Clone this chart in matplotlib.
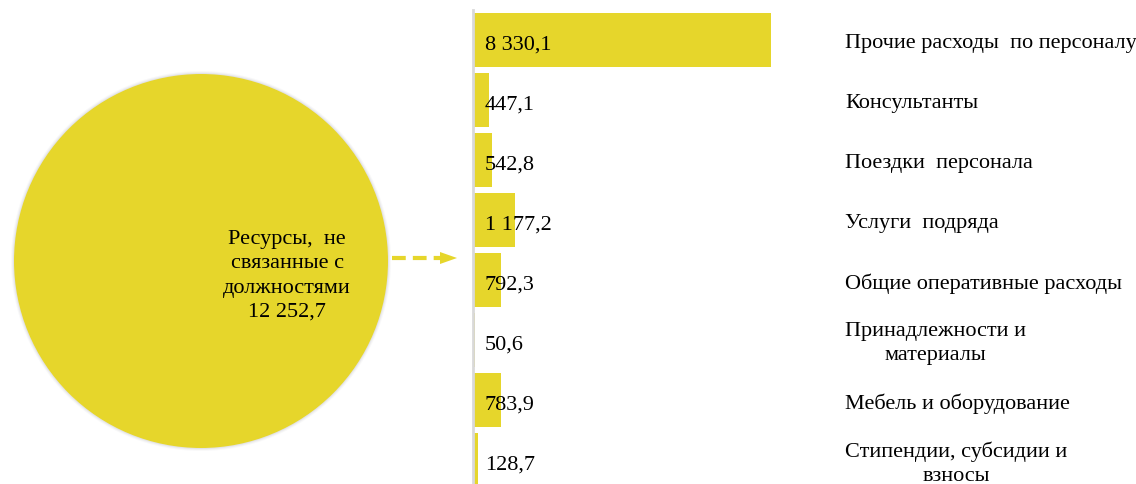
import matplotlib.pyplot as plt
from matplotlib.patches import Circle, Polygon
from matplotlib.transforms import blended_transform_factory

plt.rcParams['font.family'] = ['Liberation Serif', 'DejaVu Serif']

# данные
categories = ["Прочие расходы  по персоналу", "Консультанты", "Поездки  персонала",
              "Услуги  подряда", "Общие оперативные расходы", "Принадлежности и\nматериалы",
              "Мебель и оборудование", "Стипендии, субсидии и\nвзносы"]
values = [8330.1, 447.1, 542.8, 1177.2, 792.3, 50.6, 783.9, 128.7]
value_labels = ["8 330,1", "447,1", "542,8", "1 177,2", "792,3", "50,6", "783,9", "128,7"]
total_label = "Ресурсы,  не\nсвязанные с\nдолжностями\n12 252,7"

yellow = "#E6D62B"
W, H = 1136, 485
fs = 16

fig = plt.figure(figsize=(W / 100, H / 100), dpi=100)

# фон в пикселях: круг и стрелка
bg = fig.add_axes([0, 0, 1, 1])
bg.set_xlim(0, W)
bg.set_ylim(H, 0)
bg.set_aspect("equal")
bg.axis("off")
# лёгкая тень вокруг круга
for dr, a in [(3, 0.05), (2, 0.08), (1, 0.12)]:
    bg.add_patch(Circle((201, 262), 187 + dr, color="#8a8a9a", alpha=a, lw=0))
bg.add_patch(Circle((201, 262), 187, color=yellow, lw=0))
bg.text(287, 276, total_label, ha="center", va="center", fontsize=fs, linespacing=1.37)

# пунктирная стрелка
bg.plot([392, 441], [259, 259], color=yellow, lw=3, linestyle=(0, (3.3, 1.7)),
        solid_capstyle="butt", dash_capstyle="butt")
bg.add_patch(Polygon([[440, 253], [457, 259], [440, 265]], closed=True, color=yellow, lw=0))

# столбики
left, top, bottom = 473, 11, 485
ax = fig.add_axes([left / W, 0, (W - left) / W, (bottom - top) / H])
pos = list(range(len(values)))
ax.barh(pos, values, height=0.9, color=yellow)
ax.set_xlim(0, values[0] * (W - left) / (771 - left))
ax.set_ylim(7.4, -0.5)
for s in ["top", "right", "bottom"]:
    ax.spines[s].set_visible(False)
ax.spines["left"].set_color("#d9d9d9")
ax.spines["left"].set_linewidth(2)
ax.set_xticks([])
ax.set_yticks([])

trans = blended_transform_factory(fig.transFigure, ax.transData)
for i, (lab, cat) in enumerate(zip(value_labels, categories)):
    ax.text(485 / W, i + 0.07, lab, transform=trans, ha="left", va="center", fontsize=fs)
    ax.text(845 / W, i + 0.04, cat, transform=trans, ha="left", va="center",
            fontsize=fs, multialignment="center", linespacing=1.37)

fig.savefig("out.png", dpi=100)
